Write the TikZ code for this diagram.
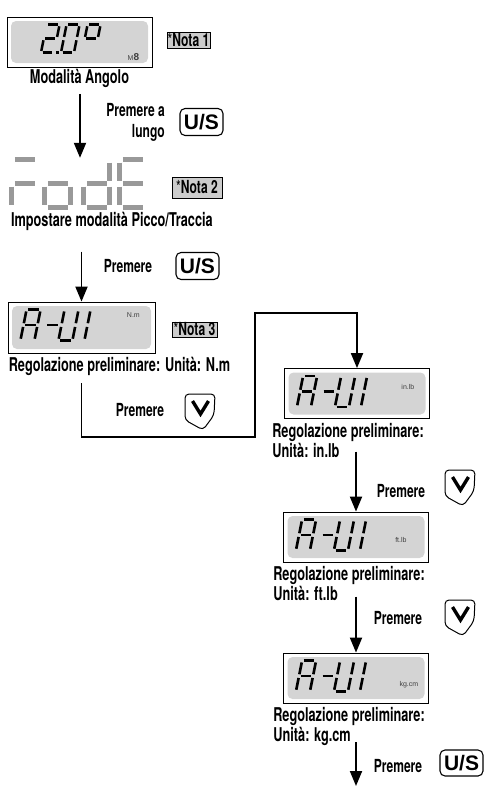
\documentclass[tikz,border=0pt]{standalone}
\usepackage{fontspec}
\setmainfont{TeX Gyre Heros}[FakeStretch=0.67]
\newfontfamily\keyfont{Liberation Sans}
\usetikzlibrary{positioning, arrows.meta, calc}

\definecolor{lcdback}{gray}{0.83}
\definecolor{notafill}{gray}{0.8}
\definecolor{segdim}{gray}{0.6}

\tikzset{
  lcd/.style={draw, line width=0.8pt, minimum width=145pt, minimum height=50pt, inner sep=0pt,
    path picture={\fill[lcdback, rounded corners=5pt]
      ([shift={(4pt,-4pt)}]path picture bounding box.north west) rectangle
      ([shift={(-4pt,4pt)}]path picture bounding box.south east);}},
  caption/.style={inner sep=1pt, font=\bfseries\fontsize{19}{20}\selectfont},
  hint/.style={inner sep=1pt, align=right, font=\bfseries\fontsize{18}{21}\selectfont},
  nota/.style={draw, fill=notafill, line width=0.7pt, inner sep=0pt, font=\bfseries\fontsize{18}{17}\selectfont},
  uskey/.style={draw, rounded corners=5pt, line width=1.1pt, inner sep=0pt, minimum width=43pt, minimum height=27pt,
    font=\keyfont\bfseries\fontsize{21}{21}\selectfont},
  unit/.style={inner sep=0pt, text=black!75, font=\keyfont\fontsize{7}{7}\selectfont},
  flow/.style={line width=1.9pt, -{Triangle[width=12pt, length=15pt]}},
  % seven segment cell, 10 x 20 units
  seg a/.style={insert path={(1.2,0) -- (8.8,0)}},
  seg b/.style={insert path={(10,1.2) -- (10,8.8)}},
  seg c/.style={insert path={(10,11.2) -- (10,18.8)}},
  seg d/.style={insert path={(1.2,20) -- (8.8,20)}},
  seg e/.style={insert path={(0,11.2) -- (0,18.8)}},
  seg f/.style={insert path={(0,1.2) -- (0,8.8)}},
  seg g/.style={insert path={(1.2,10) -- (8.8,10)}},
  small digit/.style={x=1.3pt, y=-1.4pt, xslant=0.2, line width=2.5pt},
  unit digit/.style={x=1.4pt, y=-1.55pt, xslant=0.2, line width=2.6pt},
  mode digit/.style={x=2.6pt, y=-2.4pt, line width=4.8pt, color=segdim},
}

% style, top left corner, lit segments
\newcommand\lcdchar[3]{%
  \begin{scope}[shift={#2}, #1]
    \foreach \s in {#3} {\draw[seg \s];}
  \end{scope}}

% A-U1 readout inside a display
\newcommand\unitglyphs[1]{%
  \begin{scope}[shift={(#1.north west)}]
    \lcdchar{unit digit}{(19,8)}{a,b,c,e,f,g}
    \lcdchar{unit digit}{(41,8)}{g}
    \lcdchar{unit digit}{(57,8)}{b,c,d,e,f}
    \lcdchar{unit digit}{(69,8)}{b,c}
  \end{scope}}

% down key: name, centre
\newcommand\downkey[2]{%
  \coordinate (#1) at #2;
  \draw[line width=1pt, rounded corners=4pt] ($(#1)+(-15,-17)$) -- ($(#1)+(15,-17)$) -- ($(#1)+(14,4)$)
    -- ($(#1)+(3,19)$) -- ($(#1)+(-15,9)$) -- cycle;
  \draw[line width=3.4pt] ($(#1)+(-7.5,-10)$) -- ($(#1)+(0.5,3)$) -- ($(#1)+(8.5,-10)$);}

\newcommand\notastar{{\mdseries*}}

\begin{document}
\begin{tikzpicture}[x=1pt, y=-1pt]
\useasboundingbox (0,0) rectangle (489,787);

% Angle mode
\node[lcd] (angle) at (79.5,42) {};
\begin{scope}[shift={(angle.north west)}]
  \lcdchar{small digit}{(40,8)}{a,b,g,e,d}
  \fill (49,34) rectangle ++(3,3);
  \lcdchar{small digit}{(60,8)}{a,b,c,d,e,f}
  \lcdchar{small digit}{(81,8)}{a,b,f,g}
\end{scope}
\node[unit] (angleunit) at ($(angle.north east)+(-19,40)$) {M{\fontsize{10}{10}\selectfont\bfseries 8}};
\node[nota, minimum width=43pt, minimum height=16pt] (nota1) at (188.5,40) {\notastar Nota 1};
\node[caption, below=1pt of angle] (anglelbl) {Modalità Angolo};

\node[hint, anchor=east] (hold) at (166,122) {Premere a\\lungo};
\node[uskey] (key1) at (201.5,122) {U/S};

% Peak / track mode
\node[minimum width=140pt, minimum height=52pt, inner sep=0pt] (modeview) at (80,184) {};
\begin{scope}[shift={(modeview.north west)}]
  \lcdchar{mode digit}{(2,2)}{a,g,e}
  \lcdchar{mode digit}{(35,2)}{g,e,c,d}
  \lcdchar{mode digit}{(74,2)}{b,c,d,e,g}
  \lcdchar{mode digit}{(110,2)}{a,f,g,e,d}
\end{scope}
\node[nota, minimum width=50pt, minimum height=21pt] (nota2) at (197,187.5) {\notastar Nota 2};
\node[caption, below=1pt of modeview.south west, anchor=north west] (modelbl) {Impostare modalità Picco/Traccia};
\draw[flow] ($(modeview.north)+(0,-64)$) -- (modeview.north);

\node[hint] (press1) at (128,266) {Premere};
\node[uskey] (key2) at (197.5,266) {U/S};

% Unit N.m
\node[lcd, minimum width=147pt, minimum height=51pt] (nmview) at (81.5,327.5) {};
\unitglyphs{nmview}
\node[unit] (nmunit) at ($(nmview.north east)+(-22,13)$) {N.m};
\node[nota, minimum width=45pt, minimum height=15pt] (nota3) at (194.5,329.5) {\notastar Nota 3};
\node[caption, below=3pt of nmview.south west, anchor=north west] (nmlbl) {Regolazione preliminare: Unità: N.m};
\draw[flow] ($(nmview.north)+(0,-50)$) -- (nmview.north);

\node[hint] (press2) at (140,410) {Premere};
\downkey{down1}{(200,411)}

% Unit in.lb
\node[lcd] (inlbview) at (357,393.5) {};
\unitglyphs{inlbview}
\node[unit] (inlbunit) at ($(inlbview.north east)+(-22,19)$) {in.lb};
\node[caption, align=left, below=3pt of inlbview.south west, anchor=north west, xshift=-13pt] (inlblbl)
  {Regolazione preliminare:\\Unità: in.lb};
\coordinate (bend) at (255,313);
\draw[flow] ($(nmview.south)+(0,30)$) -- ++(0,54) -| (bend) -| (inlbview.north);

\node[hint] (press3) at (401,491) {Premere};
\downkey{down2}{(460,487)}

% Unit ft.lb
\node[lcd] (ftlbview) at (356,537) {};
\unitglyphs{ftlbview}
\node[unit] (ftlbunit) at ($(ftlbview.north east)+(-28,28)$) {ft.lb};
\node[caption, align=left, below=3pt of ftlbview.south west, anchor=north west, xshift=-11pt] (ftlblbl)
  {Regolazione preliminare:\\Unità: ft.lb};
\draw[flow] ($(ftlbview.north)+(0,-60)$) -- (ftlbview.north);

\node[hint] (press4) at (398,618) {Premere};
\downkey{down3}{(460,617)}

% Unit kg.cm
\node[lcd] (kgcmview) at (356,678) {};
\unitglyphs{kgcmview}
\node[unit] (kgcmunit) at ($(kgcmview.north east)+(-20,32)$) {kg.cm};
\node[caption, align=left, below=3pt of kgcmview.south west, anchor=north west, xshift=-11pt] (kgcmlbl)
  {Regolazione preliminare:\\Unità: kg.cm};
\draw[flow] ($(kgcmview.north)+(0,-56)$) -- (kgcmview.north);

\coordinate (exit) at (356,786);
\draw[flow] ($(kgcmview.south)+(0,39)$) -- (exit);
\node[hint] (press5) at (398,766) {Premere};
\node[uskey, minimum height=26pt] (key3) at (461.5,763) {U/S};
\end{tikzpicture}
\end{document}
